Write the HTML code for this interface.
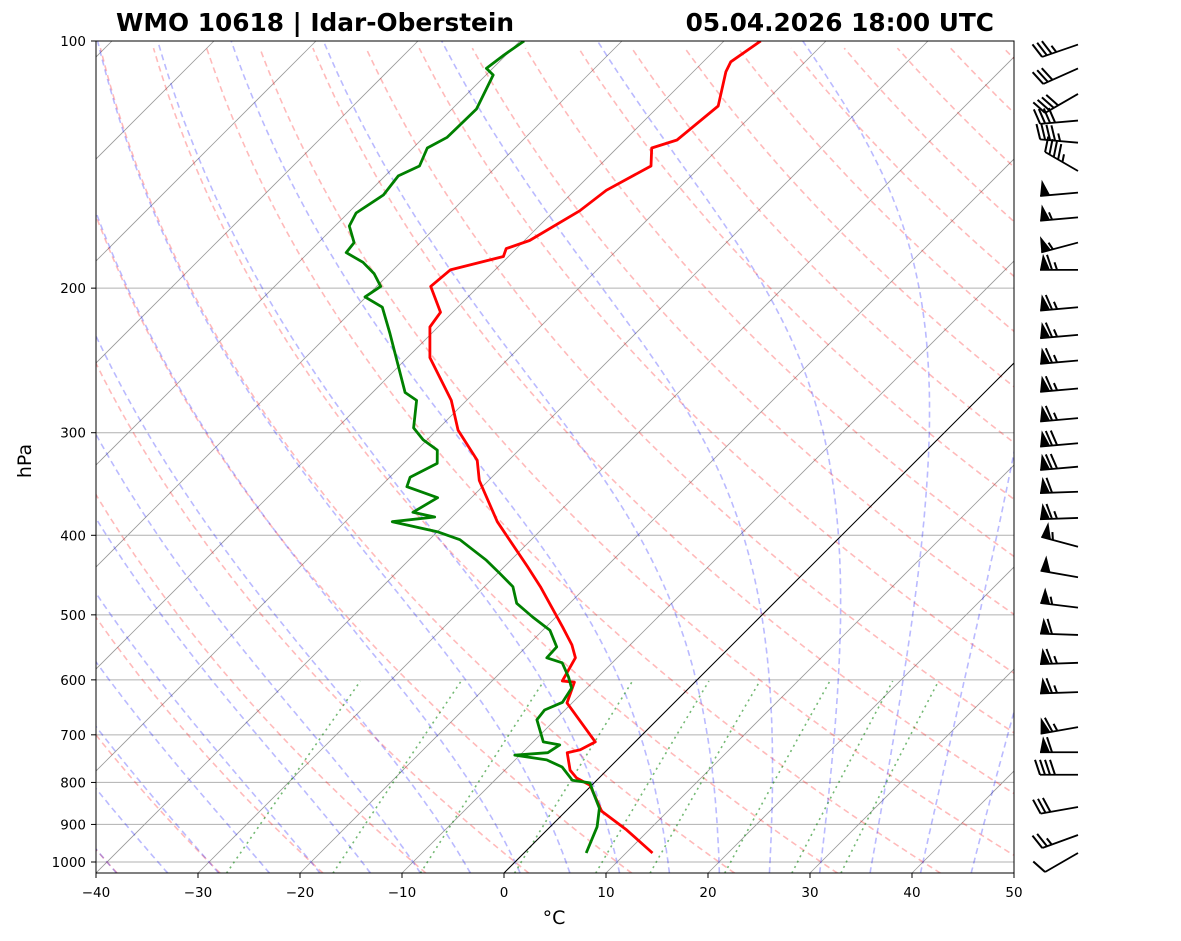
<!DOCTYPE html>
<html><head><meta charset="utf-8"><style>
html,body{margin:0;padding:0;background:#fff;}
svg{display:block;font-family:"DejaVu Sans","Liberation Sans",sans-serif;}
</style></head><body>
<svg id="chart" width="1181" height="941" viewBox="0 0 1181 941" xmlns="http://www.w3.org/2000/svg">
<defs><clipPath id="plotclip"><rect x="96" y="41" width="918" height="832"/></clipPath></defs>
<rect x="0" y="0" width="1181" height="941" fill="#fff"/>
<text x="116" y="31" font-size="24.8" font-weight="bold">WMO 10618 | Idar-Oberstein</text>
<text x="994" y="31" font-size="24.8" font-weight="bold" text-anchor="end">05.04.2026 18:00 UTC</text>
<g id="bg" clip-path="url(#plotclip)"></g>
<g id="profiles" clip-path="url(#plotclip)"></g>
<rect x="96" y="41" width="918" height="832" fill="none" stroke="#000" stroke-width="1"/>
<g id="axes"></g>
<g id="barbs"></g>
<text x="0" y="0" font-size="19" text-anchor="middle" transform="translate(31,461) rotate(-90)">hPa</text>
<text x="554" y="924" font-size="19" text-anchor="middle">°C</text>
</svg>
<script>
// ---- data ----
const tempP = [975,914,867,806,790,773,736,730,714,640,604,602,564,544,517,462,437,385,343,324,298,274,243,223,214,199,190,183,179,175,161,152,142,135,132,120,109,106,100];
const tempT = [12.6,7.8,3.5,-0.2,-2.2,-3.6,-5.6,-4.6,-3.9,-10.5,-11.8,-13.1,-14.1,-15.7,-18.4,-24.5,-27.7,-35.1,-40.9,-43.1,-47.9,-51.5,-57.8,-60.8,-61.2,-64.7,-64.4,-60.5,-61,-59.5,-57.5,-56.9,-54.9,-56.6,-54.9,-54.2,-56.8,-57.3,-56.4];
const dewP = [975,906,860,822,801,795,766,751,741,736,720,714,671,653,639,614,595,572,564,547,522,503,484,462,445,429,405,396,385,380,375,360,349,340,327,315,306,296,274,268,227,211,205,199,192,186,181,176,168,162,154,146,142,135,131,121,110,108,104,100];
const dewT = [6.1,4.6,3.0,0.8,-0.4,-2.4,-4.7,-6.9,-10.5,-7.5,-7.1,-9,-11.8,-12,-11,-11.5,-12.9,-14.9,-16.9,-17,-19.3,-22.3,-25.2,-27.2,-29.8,-32.4,-37,-40,-45.4,-41.7,-44.3,-43.3,-47.4,-48,-46.7,-48,-50.4,-52.5,-54.9,-56.8,-64.1,-67.4,-70.1,-69.6,-71.5,-73.7,-76.3,-76.5,-78.6,-79.2,-78.3,-78.7,-77.6,-78.6,-77.7,-77.6,-79.3,-80.6,-80.2,-79.6];
const barbP = [101,108,116,125,133,144,153,164,176,190,211,228,245,265,288,309,330,354,381,413,450,490,529,572,621,685,735,783,857,927,975];
const barbSpd = [35,30,40,40,45,45,50,55,55,65,65,65,65,65,65,70,70,60,65,55,50,55,60,65,65,65,60,40,30,25,10];
const barbDir = [251,246,240,265,275,300,265,265,255,270,265,265,265,265,265,265,265,268,268,285,280,277,272,268,268,260,270,270,260,250,240];
const pTicks = [100,200,300,400,500,600,700,800,900,1000];
const tTicks = [-40,-30,-20,-10,0,10,20,30,40,50];
const dryT0 = [-40,-30,-20,-10,0,10,20,30,40,50,60,70,80,90,100,110,120,130,140,150,160,170,180,190,200];
const moistT0 = [-40,-35,-30,-25,-20,-15,-10,-5,0,5,10,15,20,25,30,35,40,45,50];
const mixW = [0.0004,0.001,0.002,0.004,0.007,0.01,0.016,0.024,0.032];

// ---- scales ----
const NS="http://www.w3.org/2000/svg";
function yP(p){return 862+821*Math.log10(p/1000);}
function xT(T,p){return 96+(T+40)*10.2+(873-yP(p));}
function mk(tag,attrs,parent){const e=document.createElementNS(NS,tag);for(const k in attrs)e.setAttribute(k,attrs[k]);parent.appendChild(e);return e;}
function pathFrom(pts){return pts.map((q,i)=>(i?'L':'M')+q[0].toFixed(1)+' '+q[1].toFixed(1)).join('');}
const bg=document.getElementById('bg'), prof=document.getElementById('profiles'), axes=document.getElementById('axes'), barbs=document.getElementById('barbs');
const pBot=1032, pTop=100;

pTicks.forEach(p=>{
  const l=mk('line',{x1:96,x2:1014,y1:yP(p),y2:yP(p),stroke:'#b0b0b0','stroke-width':1},bg);
  
  
});
for(let T=-130;T<=50;T+=10){
  const l=mk('line',{x1:xT(T,pBot),y1:yP(pBot),x2:xT(T,pTop),y2:yP(pTop),stroke:'#999','stroke-width':0.8},bg);
  
  
}
dryT0.forEach(t0=>{
  const pts=[];const th=t0+273.15;
  for(let p=pBot;p>=pTop;p-=5){pts.push([xT(th*Math.pow(p/1000,0.2857)-273.15,p),yP(p)]);}
  const e=mk('path',{d:pathFrom(pts),fill:'none',stroke:'rgba(255,0,0,0.27)','stroke-width':1.6,'stroke-dasharray':'6,4'},bg);
  
  
});
function dTdp(p,T){const es=6.112*Math.exp(17.67*(T-273.15)/(T-29.65));const rs=0.622*es/(p-es);
  return ((287.04*T+2.501e6*rs)/p)/(1005.7+2.501e6*2.501e6*rs*0.622/(287.04*T*T));}
function integ(T,p0,p1,dp){const out=[];let T_=T,p=p0;out.push([p,T_]);
  while((dp<0&&p>p1)||(dp>0&&p<p1)){const k1=dTdp(p,T_);const k2=dTdp(p+dp,T_+k1*dp);T_+=0.5*(k1+k2)*dp;p+=dp;out.push([p,T_]);}return out;}
moistT0.forEach(t0=>{
  const up=integ(t0+273.15,1000,pTop,-5), dn=integ(t0+273.15,1000,pBot,4).reverse();
  const all=dn.concat(up.slice(1)).map(q=>[xT(q[1]-273.15,q[0]),yP(q[0])]);
  const e=mk('path',{d:pathFrom(all),fill:'none',stroke:'rgba(0,0,255,0.27)','stroke-width':1.6,'stroke-dasharray':'6,4'},bg);
  
  
});
mixW.forEach(w=>{
  const pts=[];
  for(let p=pBot;p>=600;p-=10){const e=p*w/(0.622+w);const L=Math.log(e/6.112);const td=243.5*L/(17.67-L);pts.push([xT(td,p),yP(p)]);}
  const e=mk('path',{d:pathFrom(pts),fill:'none',stroke:'rgba(0,128,0,0.55)','stroke-width':1.6,'stroke-dasharray':'2,4'},bg);
  
  
});
{const z=mk('line',{x1:xT(0,pBot),y1:yP(pBot),x2:xT(0,pTop),y2:yP(pTop),stroke:'#000','stroke-width':1},bg);

}
{const t=mk('path',{d:pathFrom(tempP.map((p,i)=>[xT(tempT[i],p),yP(p)])),fill:'none',stroke:'#f00','stroke-width':2.8,'stroke-linejoin':'round'},prof);


const d=mk('path',{d:pathFrom(dewP.map((p,i)=>[xT(dewT[i],p),yP(p)])),fill:'none',stroke:'#008000','stroke-width':2.8,'stroke-linejoin':'round'},prof);

}
pTicks.forEach(p=>{
  const y=yP(p);
  mk('line',{x1:91,x2:96,y1:y,y2:y,stroke:'#000','stroke-width':1},axes);
  const t=mk('text',{x:86,y:y+5,'font-size':13.5,'text-anchor':'end'},axes);t.textContent=p;
  
  
});
tTicks.forEach(T=>{
  const x=96+(T+40)*10.2;
  mk('line',{x1:x,x2:x,y1:873,y2:878,stroke:'#000','stroke-width':1},axes);
  const t=mk('text',{x:x,y:897,'font-size':13.5,'text-anchor':'middle'},axes);t.textContent=(T<0?'\u2212'+(-T):T);
  
  
});
barbP.forEach((p,i)=>{
  const g=mk('g',{},barbs);
  
  
  const d=barbDir[i]*Math.PI/180;const ux=Math.sin(d),uy=-Math.cos(d);const nx=-uy,ny=ux;
  const Lx=1078,Ly=yP(p);const Ex=Lx+38*ux,Ey=Ly+38*uy;
  mk('line',{x1:Lx,y1:Ly,x2:Ex,y2:Ey,stroke:'#000','stroke-width':1.8},g);
  let s=Math.round(barbSpd[i]/5)*5;let nf=Math.floor(s/50);s-=nf*50;let nb=Math.floor(s/10);s-=nb*10;let nh=s>=5?1:0;
  let off=0;
  for(let k=0;k<nf;k++){
    const ax=Ex-ux*off,ay=Ey-uy*off,bx=Ex-ux*(off+10),by=Ey-uy*(off+10);
    const cx=Ex-ux*(off+3)+nx*16,cy=Ey-uy*(off+3)+ny*16;
    mk('polygon',{points:`${ax},${ay} ${bx},${by} ${cx},${cy}`,fill:'#000'},g);off+=12;
  }
  if(nf===0&&nb===0&&nh)off=5;
  for(let k=0;k<nb;k++){
    const ax=Ex-ux*off,ay=Ey-uy*off;
    mk('line',{x1:ax,y1:ay,x2:ax+nx*15+ux*5,y2:ay+ny*15+uy*5,stroke:'#000','stroke-width':2},g);off+=5;
  }
  if(nh){const ax=Ex-ux*off,ay=Ey-uy*off;
    mk('line',{x1:ax,y1:ay,x2:ax+nx*7.5+ux*2.5,y2:ay+ny*7.5+uy*2.5,stroke:'#000','stroke-width':2},g);}
});
</script>
</body></html>
